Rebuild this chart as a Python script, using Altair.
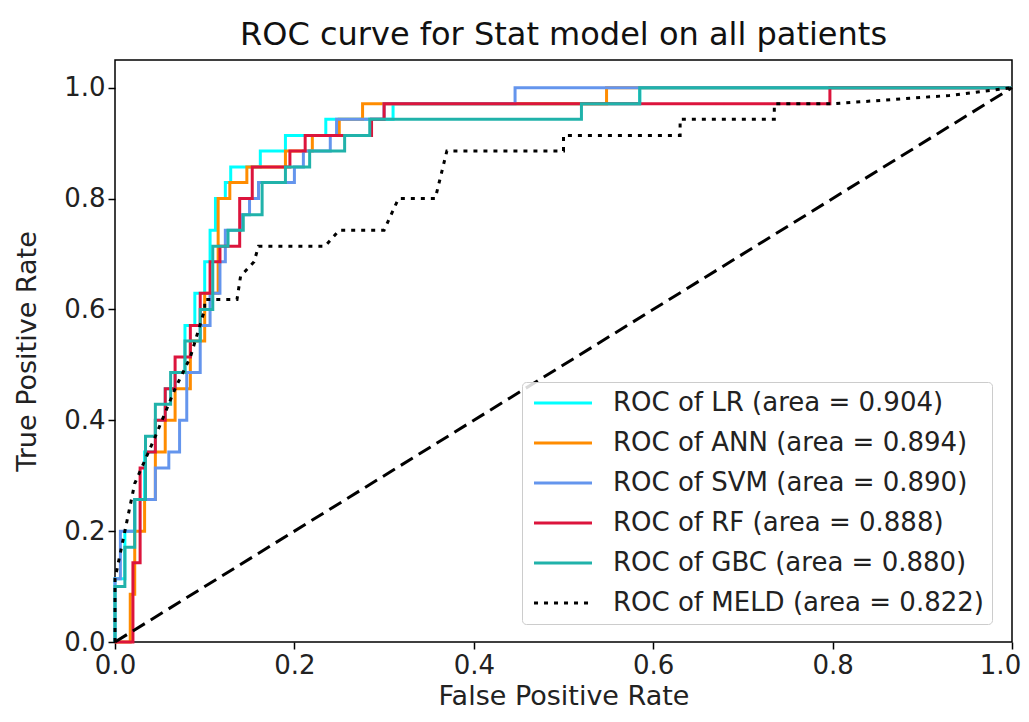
import altair as alt
import pandas as pd

models = ["LR", "ANN", "SVM", "RF", "GBC", "MELD"]
areas = ["0.904", "0.894", "0.890", "0.888", "0.880", "0.822"]
colors = ["#00FFFF", "#FF8C00", "#6495ED", "#DC143C", "#20B2AA", "#000000"]
dashes = [[1, 0], [1, 0], [1, 0], [1, 0], [1, 0], [4, 6]]

lr_fpr = [0, 0, 0.011, 0.011, 0.022, 0.022, 0.033, 0.033, 0.045, 0.045, 0.056, 0.056, 0.067, 0.067,
          0.078, 0.078, 0.089, 0.089, 0.1, 0.1, 0.106, 0.106, 0.112, 0.112, 0.123, 0.123, 0.129, 0.129,
          0.162, 0.162, 0.19, 0.19, 0.235, 0.235, 0.31, 0.31, 0.585, 0.585, 1.0]
lr_tpr = [0, 0.114, 0.114, 0.2, 0.2, 0.257, 0.257, 0.343, 0.343, 0.4, 0.4, 0.457, 0.457, 0.486,
          0.486, 0.571, 0.571, 0.629, 0.629, 0.686, 0.686, 0.743, 0.743, 0.8, 0.8, 0.829, 0.829, 0.857,
          0.857, 0.886, 0.886, 0.914, 0.914, 0.943, 0.943, 0.971, 0.971, 1.0, 1.0]

ann_fpr = [0, 0.017, 0.017, 0.022, 0.022, 0.033, 0.033, 0.045, 0.045, 0.056, 0.056, 0.067, 0.067,
           0.084, 0.084, 0.1, 0.1, 0.115, 0.115, 0.128, 0.128, 0.147, 0.147, 0.19, 0.19, 0.22, 0.22,
           0.25, 0.25, 0.276, 0.276, 0.548, 0.548, 1.0]
ann_tpr = [0, 0, 0.086, 0.086, 0.2, 0.2, 0.257, 0.257, 0.343, 0.343, 0.4, 0.4, 0.457,
           0.457, 0.543, 0.543, 0.629, 0.629, 0.8, 0.8, 0.829, 0.829, 0.857, 0.857, 0.886, 0.886, 0.914,
           0.914, 0.943, 0.943, 0.971, 0.971, 1.0, 1.0]

svm_fpr = [0, 0, 0.006, 0.006, 0.022, 0.022, 0.045, 0.045, 0.06, 0.06, 0.072, 0.072, 0.08, 0.08,
           0.095, 0.095, 0.106, 0.106, 0.117, 0.117, 0.123, 0.123, 0.14, 0.14, 0.15, 0.15, 0.16, 0.16,
           0.2, 0.2, 0.21, 0.21, 0.24, 0.24, 0.247, 0.247, 0.30, 0.30, 0.446, 0.446, 1.0]
svm_tpr = [0, 0.114, 0.114, 0.2, 0.2, 0.257, 0.257, 0.314, 0.314, 0.343, 0.343, 0.4, 0.4, 0.486,
           0.486, 0.571, 0.571, 0.629, 0.629, 0.686, 0.686, 0.743, 0.743, 0.771, 0.771, 0.8, 0.8, 0.829,
           0.829, 0.857, 0.857, 0.886, 0.886, 0.914, 0.914, 0.943, 0.943, 0.971, 0.971, 1.0, 1.0]

rf_fpr = [0, 0.02, 0.02, 0.028, 0.028, 0.034, 0.034, 0.045, 0.045, 0.056, 0.056, 0.067, 0.067,
          0.084, 0.084, 0.095, 0.095, 0.106, 0.106, 0.117, 0.117, 0.139, 0.139, 0.153, 0.153, 0.195,
          0.195, 0.212, 0.212, 0.286, 0.286, 0.30, 0.30, 0.797, 0.797, 1.0]
rf_tpr = [0, 0, 0.143, 0.143, 0.314, 0.314, 0.343, 0.343, 0.4, 0.4, 0.457, 0.457, 0.514,
          0.514, 0.571, 0.571, 0.629, 0.629, 0.686, 0.686, 0.714, 0.714, 0.8, 0.8, 0.857, 0.857,
          0.886, 0.886, 0.914, 0.914, 0.943, 0.943, 0.971, 0.971, 1.0, 1.0]

gbc_fpr = [0, 0, 0.011, 0.011, 0.022, 0.022, 0.034, 0.034, 0.045, 0.045, 0.062, 0.062, 0.078, 0.078,
           0.095, 0.095, 0.109, 0.109, 0.126, 0.126, 0.143, 0.143, 0.164, 0.164, 0.19, 0.19, 0.217,
           0.217, 0.256, 0.256, 0.284, 0.284, 0.52, 0.52, 0.585, 0.585, 1.0]
gbc_tpr = [0, 0.1, 0.1, 0.171, 0.171, 0.257, 0.257, 0.371, 0.371, 0.429, 0.429, 0.486, 0.486, 0.543,
           0.543, 0.6, 0.6, 0.714, 0.714, 0.743, 0.743, 0.771, 0.771, 0.829, 0.829, 0.857, 0.857,
           0.886, 0.886, 0.914, 0.914, 0.943, 0.943, 0.971, 0.971, 1.0, 1.0]

meld_fpr = [0, 0, 0.011, 0.022, 0.045, 0.067, 0.084, 0.1, 0.1, 0.136, 0.14, 0.155, 0.16, 0.234,
            0.25, 0.3, 0.316, 0.357, 0.37, 0.5, 0.5, 0.63, 0.63, 0.735, 0.735, 0.8, 0.93, 1.0]
meld_tpr = [0, 0.114, 0.2, 0.286, 0.371, 0.457, 0.514, 0.6, 0.618, 0.618, 0.66, 0.686, 0.714, 0.714,
            0.743, 0.743, 0.8, 0.8, 0.886, 0.886, 0.914, 0.914, 0.943, 0.943, 0.971, 0.971, 0.986, 1.0]

diag_fpr = [0.0, 1.0]
diag_tpr = [0.0, 1.0]

ticks = [0.0, 0.2, 0.4, 0.6, 0.8, 1.0]

series = [lr_fpr, ann_fpr, svm_fpr, rf_fpr, gbc_fpr, meld_fpr]
series_t = [lr_tpr, ann_tpr, svm_tpr, rf_tpr, gbc_tpr, meld_tpr]
labels = [f"ROC of {m} (area = {a})" for m, a in zip(models, areas)]

rows = []
for lab, fx, ty in zip(labels, series, series_t):
    for i, (a, b) in enumerate(zip(fx, ty)):
        rows.append({"label": lab, "fpr": a, "tpr": b, "idx": i})
df = pd.DataFrame(rows)
diag = pd.DataFrame({"fpr": diag_fpr, "tpr": diag_tpr, "idx": [0, 1]})

xscale = alt.Scale(domain=[0, 1], nice=False, zero=False)
yscale = alt.Scale(domain=[0, 1.05], nice=False, zero=False)
xaxis = alt.Axis(values=ticks, format=".1f", title="False Positive Rate", titlePadding=5, labelFlush=False,
                 labelOffset=alt.expr("datum.value == 1 ? -12 : 0"))
yaxis = alt.Axis(values=ticks, format=".1f", title="True Positive Rate", titlePadding=22)

leg = alt.Legend(title=None, orient="none", legendX=407, legendY=322)

curves = alt.Chart(df).mark_line(strokeWidth=3, strokeCap="butt", clip=False).encode(
    x=alt.X("fpr:Q", scale=xscale, axis=xaxis),
    y=alt.Y("tpr:Q", scale=yscale, axis=yaxis),
    color=alt.Color("label:N", scale=alt.Scale(domain=labels, range=colors), legend=leg, sort=labels),
    strokeDash=alt.StrokeDash("label:N", scale=alt.Scale(domain=labels, range=dashes), legend=leg, sort=labels),
    order=alt.Order("idx:Q"),
)

diag_line = alt.Chart(diag).mark_line(color="black", strokeWidth=3, strokeDash=[14, 7], strokeCap="butt").encode(
    x=alt.X("fpr:Q", scale=xscale, axis=xaxis),
    y=alt.Y("tpr:Q", scale=yscale, axis=yaxis),
    order=alt.Order("idx:Q"),
)

chart = alt.layer(curves, diag_line).properties(
    width=897,
    height=582,
    autosize=alt.AutoSizeParams(type="none"),
    padding={"left": 107, "top": 52, "right": 9, "bottom": 70},
    title=alt.TitleParams("ROC curve for Stat model on all patients", fontSize=32, font="DejaVu Sans",
                          fontWeight="normal", color="#111111", offset=8),
).configure_view(
    stroke="black", strokeWidth=1.5
).configure_axis(
    domain=False, grid=False, tickColor="black", tickSize=7, tickWidth=1.5,
    labelFont="DejaVu Sans", labelFontSize=26, labelColor="#222222", labelPadding=3,
    titleFont="DejaVu Sans", titleFontSize=27, titleFontWeight="normal", titleColor="#222222",
).configure_legend(
    labelFont="DejaVu Sans", labelFontSize=26, labelColor="#222222", labelLimit=600,
    symbolType="M-4,0H4", symbolSize=210, symbolStrokeWidth=3, symbolOffset=20, labelOffset=37,
    rowPadding=14, padding=8, strokeColor="#cccccc", fillColor="rgba(255,255,255,0.85)",
    cornerRadius=4,
)

chart.save("out.html", embed_options={"renderer": "svg", "actions": False})
